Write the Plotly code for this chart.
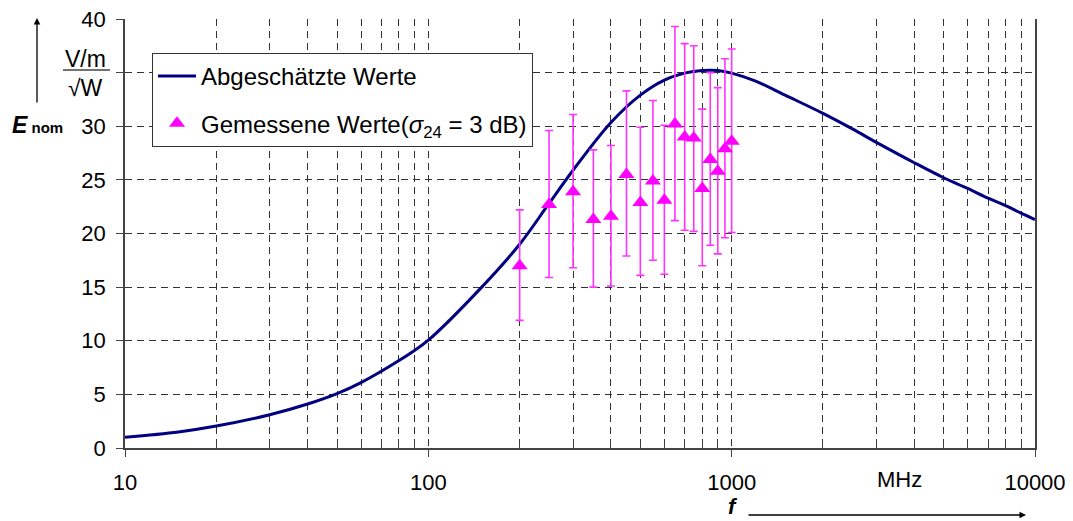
import plotly.graph_objects as go

# Estimated curve
curve_f = [10, 15, 20, 30, 40, 50, 60, 70, 80, 90, 100, 150, 200, 250, 300, 400, 500,
           600, 700, 800, 900, 1000, 1200, 1500, 2000, 2500, 3000, 4000, 5000, 6000,
           7000, 8000, 9000, 10000]
curve_E = [1.0, 1.5, 2.05, 3.1, 4.1, 5.07, 6.1, 7.15, 8.15, 9.1, 10.05, 15.0, 19.0, 22.8,
           25.9, 30.35, 32.9, 34.3, 34.95, 35.2, 35.2, 34.95, 34.2, 32.9, 31.2, 29.75,
           28.5, 26.6, 25.2, 24.2, 23.3, 22.6, 21.9, 21.3]

# Measured values with error bars
meas_f = [200, 250, 300, 350, 400, 450, 500, 550, 600, 650, 700, 750, 800, 850, 900, 950, 1000]
meas_E = [17.0, 22.7, 23.9, 21.3, 21.6, 25.5, 22.9, 24.9, 23.1, 30.2, 29.0, 28.9, 24.2,
          26.9, 25.8, 27.9, 28.6]
meas_upper = [22.2, 29.6, 31.1, 27.8, 28.2, 33.3, 29.9, 32.4, 30.1, 39.3, 37.7, 37.5, 31.6,
              35.0, 33.6, 36.3, 37.2]
meas_lower = [11.9, 15.9, 16.8, 15.0, 15.1, 17.9, 16.1, 17.5, 16.2, 21.2, 20.3, 20.2, 17.0,
              18.9, 18.1, 19.6, 20.1]

x_tick_vals = [10, 100, 1000, 10000]
x_tick_text = ["10", "100", "1000", "10000"]
x_minor_vals = [k * 10 ** d for d in (1, 2, 3) for k in range(2, 10)]
y_tick_vals = [0, 5, 10, 15, 20, 25, 30, 35, 40]
y_tick_text = ["0", "5", "10", "15", "20", "25", "30", "", "40"]

FONT = "Liberation Sans, Arial, sans-serif"
GRID = "#333333"
DASH = "7px,5px"
AXC = "#444444"

err_plus = [u - e for u, e in zip(meas_upper, meas_E)]
err_minus = [e - l for e, l in zip(meas_E, meas_lower)]

fig = go.Figure()
fig.add_trace(go.Scatter(
    x=curve_f, y=curve_E, mode="lines", name="Abgeschätzte Werte",
    line=dict(color="#000080", width=3, shape="spline", smoothing=1.0),
    legendgroup="a",
))
fig.add_trace(go.Scatter(
    x=meas_f, y=meas_E, mode="markers",
    name="Gemessene Werte(<i>σ</i><sub>24</sub> = 3 dB)",
    marker=dict(symbol="triangle-up", size=14, color="#FF00FF"),
    error_y=dict(type="data", symmetric=False, array=err_plus, arrayminus=err_minus,
                 color="#FF33FF", thickness=1.6, width=4),
    legendgroup="b",
))

W, H = 1073, 521
L, R, T, B = 125, 38, 19, 73
PW, PH = W - L - R, H - T - B


def px(xp):
    return (xp - L) / PW


def py(yp):
    return (H - B - yp) / PH


fig.update_layout(
    width=W, height=H,
    margin=dict(l=L, r=R, t=T, b=B, autoexpand=False),
    paper_bgcolor="white", plot_bgcolor="white",
    font=dict(family=FONT, size=22, color="black"),
    showlegend=True,
    legend=dict(x=px(152), y=py(53), xanchor="left", yanchor="top",
                bordercolor="#333333", borderwidth=1, bgcolor="white",
                font=dict(size=24), traceorder="grouped", tracegroupgap=13,
                itemwidth=38),
    xaxis=dict(type="log", range=[1, 4], tickmode="array", tickvals=x_tick_vals,
               ticktext=x_tick_text, showgrid=True, gridcolor=GRID, griddash=DASH,
               gridwidth=1, showline=True, linecolor=AXC, linewidth=1.5,
               ticks="outside", ticklen=7, tickcolor=AXC, ticklabelstandoff=7,
               tickfont=dict(size=22), automargin=False,
               minor=dict(tickmode="array", tickvals=x_minor_vals, showgrid=True,
                          gridcolor=GRID, griddash=DASH, gridwidth=1,
                          ticks="inside", ticklen=6, tickcolor=AXC),
               zeroline=False),
    yaxis=dict(range=[0, 40], tickmode="array", tickvals=y_tick_vals,
               ticktext=y_tick_text,
               showgrid=True, gridcolor=GRID, griddash=DASH, gridwidth=1,
               showline=True, linecolor=AXC, linewidth=1.5, mirror=True,
               ticks="outside", ticklen=7, tickcolor=AXC, ticklabelstandoff=6,
               tickfont=dict(size=22), zeroline=False, automargin=False),
)


def label(text, xp, yp, size, **kw):
    return dict(text=text, x=px(xp), y=py(yp), xref="paper", yref="paper",
                showarrow=False, xanchor="center", yanchor="middle",
                font=dict(size=size), **kw)


ann = [
    label("V/m", 85, 59, 23),
    label("√W", 85, 88, 23),
    label("<b><i>E</i></b><b><span style='font-size:15px'> nom</span></b>", 37, 125, 23),
    dict(text="", x=px(37), y=py(18), xref="paper", yref="paper", showarrow=True,
         ax=0, ay=86, arrowhead=2, arrowsize=1, arrowwidth=1.3, arrowcolor="black"),
    label("MHz", 899, 479, 22),
    label("<b><i>f</i></b>", 733, 506, 22),
    dict(text="", x=px(1026), y=py(515), xref="paper", yref="paper", showarrow=True,
         ax=-279, ay=0, arrowhead=2, arrowsize=1, arrowwidth=1.3, arrowcolor="black"),
]
fig.update_layout(annotations=ann)
fig.add_shape(type="line", xref="paper", yref="paper", x0=px(63), x1=px(110),
              y0=py(70), y1=py(70), line=dict(color=AXC, width=1.5))

fig.write_html("out.html", config={"displayModeBar": False},
               post_script="document.body.style.margin='0';")
